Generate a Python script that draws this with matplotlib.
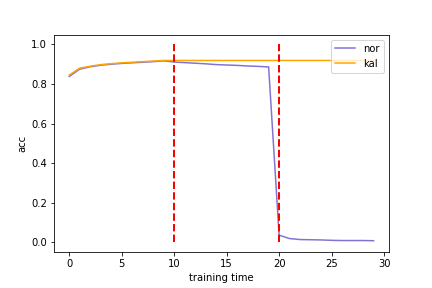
import matplotlib
matplotlib.use('Agg')
import matplotlib.pyplot as plt

# accuracy per training step
epochs = list(range(30))
nor_acc = [0.838, 0.875, 0.887, 0.895, 0.900, 0.904, 0.907, 0.910, 0.913, 0.917,
           0.911, 0.908, 0.905, 0.902, 0.898, 0.896, 0.894, 0.891, 0.889, 0.886,
           0.035, 0.018, 0.013, 0.012, 0.011, 0.009, 0.008, 0.008, 0.008, 0.007]
kal_acc = [0.845, 0.880, 0.890, 0.898, 0.903, 0.907, 0.910, 0.913, 0.916, 0.919,
           0.919, 0.919, 0.919, 0.919, 0.919, 0.919, 0.919, 0.919, 0.919, 0.919,
           0.919, 0.919, 0.919, 0.919, 0.919, 0.919, 0.919, 0.919, 0.919, 0.919]
drift_points = [10, 20]

fig = plt.figure(figsize=(6, 4), dpi=72)
fig.subplots_adjust(bottom=0.125)
plt.plot(epochs, nor_acc, color='slateblue', alpha=0.85, label='nor')
plt.plot(epochs, kal_acc, color='orange', label='kal')
for x in drift_points:
    plt.vlines(x, 0, 1, colors='r', linestyles='dashed', linewidth=2)

plt.xlabel('training time')
plt.ylabel('acc')
plt.legend(loc='upper right')
plt.savefig('out.png')
